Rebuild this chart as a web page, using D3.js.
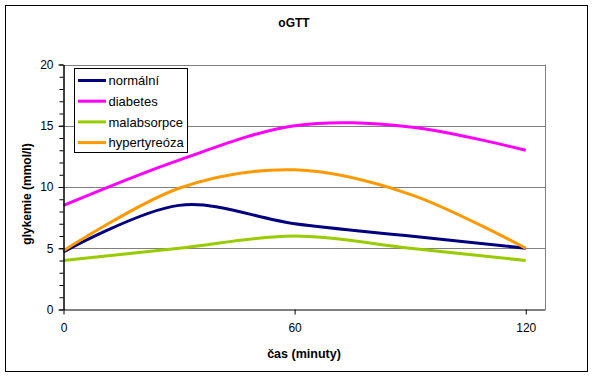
<!DOCTYPE html>
<html><head><meta charset="utf-8">
<script src="https://cdn.jsdelivr.net/npm/d3@7"></script>
<style>body{margin:0;background:#fff}svg{display:block}text{font-family:"Liberation Sans",Arial,sans-serif}</style>
</head><body>
<script>
const times = [0, 30, 60, 90, 120];
const seriesNames = ["normální", "diabetes", "malabsorpce", "hypertyreóza"];
const normalni = [4.7, 8.5, 7.0, 6.0, 5.0];
const diabetes = [8.5, 12.2, 15.0, 14.9, 13.0];
const malabsorpce = [4.0, 5.0, 6.0, 5.0, 4.0];
const hypertyreoza = [4.8, 9.9, 11.4, 9.4, 5.0];
const seriesColors = ["#000080", "#FF00FF", "#99CC00", "#FF9900"];
const xTicks = [0, 60, 120];
const yTicks = [0, 5, 10, 15, 20];
const yMinorTicks = d3.range(0, 21, 1);
const title = "oGTT";
const xTitle = "čas (minuty)";
const yTitle = "glykemie (mmol/l)";

const W = 593, H = 380;
const svg = d3.select("body").append("svg").attr("width", W).attr("height", H);

// outer border
svg.append("rect").attr("x", 5.5).attr("y", 5.5).attr("width", 582).attr("height", 366)
  .attr("fill", "#fff").attr("stroke", "#000").attr("stroke-width", 1);

const x = d3.scaleLinear().domain([0, 125]).range([63.5, 545]);
const y = d3.scaleLinear().domain([0, 20]).range([309.5, 64.5]);

// gridlines
svg.append("g").selectAll("line").data(yTicks.filter(d => d > 0)).join("line")
  .attr("x1", x(0)).attr("x2", x(125)).attr("y1", d => Math.round(y(d)) + 0.5).attr("y2", d => Math.round(y(d)) + 0.5)
  .attr("stroke", "#808080").attr("stroke-width", 1);
// right border of plot area
svg.append("line").attr("x1", Math.round(x(125)) + 0.5).attr("x2", Math.round(x(125)) + 0.5)
  .attr("y1", y(20)).attr("y2", y(0)).attr("stroke", "#808080");

// series
const data = [normalni, diabetes, malabsorpce, hypertyreoza];
const line = d3.line().x((d, i) => x(times[i])).y(d => y(d)).curve(d3.curveCardinal.tension(0));
svg.append("g").selectAll("path").data(data).join("path")
  .attr("d", d => line(d)).attr("fill", "none")
  .attr("stroke", (d, i) => seriesColors[i]).attr("stroke-width", 3);

// axes
const yAxisMinor = d3.axisLeft(y).tickValues(yMinorTicks).tickSize(4).tickSizeOuter(0).tickFormat("");
const gyMinor = svg.append("g").attr("transform", `translate(${x(0)},0)`).call(yAxisMinor);
const yAxis = d3.axisLeft(y).tickValues(yTicks).tickSize(5).tickSizeOuter(0).tickPadding(5);
const gy = svg.append("g").attr("transform", `translate(${x(0)},0)`).call(yAxis);
const xAxis = d3.axisBottom(x).tickValues(xTicks).tickSize(5).tickSizeOuter(0).tickPadding(9);
const gx = svg.append("g").attr("transform", `translate(0,${y(0)})`).call(xAxis);
[gy, gx, gyMinor].forEach(g => {
  g.select(".domain").attr("stroke", "#000");
  g.selectAll(".tick line").attr("stroke", "#000");
  g.selectAll("text").attr("font-size", 12).attr("fill", "#000").style("font-family", '"Liberation Sans", Arial, sans-serif');
});

// titles
svg.append("text").attr("x", 294).attr("y", 27).attr("text-anchor", "middle")
  .attr("font-size", 12).attr("font-weight", "bold").text(title);
svg.append("text").attr("x", 304).attr("y", 358).attr("text-anchor", "middle")
  .attr("font-size", 12.5).attr("font-weight", "bold").text(xTitle);
svg.append("text").attr("transform", "translate(31,194) rotate(-90)").attr("text-anchor", "middle")
  .attr("font-size", 12).attr("font-weight", "bold").text(yTitle);

// legend
const lg = svg.append("g");
lg.append("rect").attr("x", 74.5).attr("y", 68.5).attr("width", 113).attr("height", 84)
  .attr("fill", "#fff").attr("stroke", "#000");
const items = lg.selectAll("g.item").data(seriesNames).join("g").attr("class", "item")
  .attr("transform", (d, i) => `translate(0,${80.5 + i * 20.7})`);
items.append("line").attr("x1", 78).attr("x2", 106).attr("y1", 0).attr("y2", 0)
  .attr("stroke", (d, i) => seriesColors[i]).attr("stroke-width", 3);
items.append("text").attr("x", 108.5).attr("y", 4.8).attr("font-size", 13).text(d => d);
</script>
</body></html>
